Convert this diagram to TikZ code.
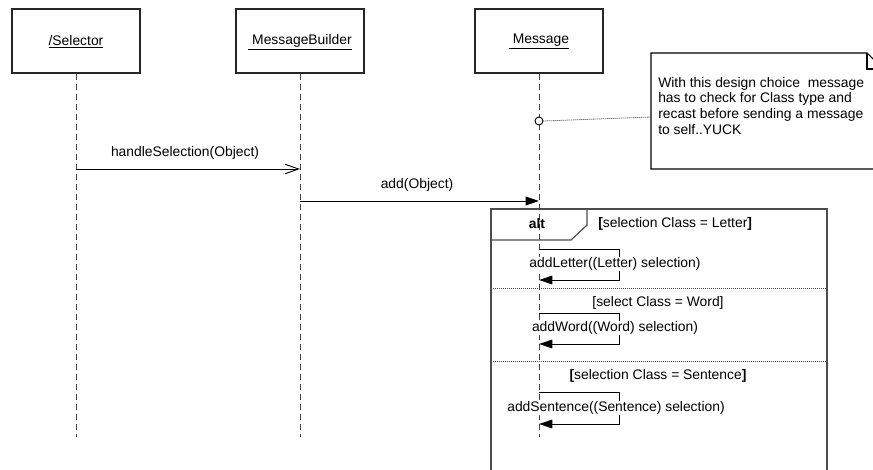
\documentclass[tikz,border=0pt]{standalone}
\usepackage{fontspec}
\setmainfont{Liberation Sans}
\usetikzlibrary{arrows.meta}
\begin{document}
\begin{tikzpicture}[x=0.75pt,y=-0.75pt,
  every node/.style={font=\fontsize{10.4}{11.7}\selectfont, inner sep=0pt},
  head/.style={draw=black!85, line width=1pt, minimum width=96pt, minimum height=48pt, fill=white},
  lifeline/.style={draw=black!75, line width=0.75pt, dash pattern=on 4.5pt off 3pt},
  msg/.style={draw=black, line width=0.7pt},
  sync/.style={msg, -{Triangle[length=10pt,width=6.5pt]}},
  async/.style={msg, -{Straight Barb[length=10pt,width=7pt]}},
  frame/.style={draw=black!70, line width=0.9pt},
  divider/.style={draw=black!70, line width=0.6pt, dash pattern=on 0.75pt off 0.75pt}]
\useasboundingbox (0,0) rectangle (873,470);
\clip (0,0) rectangle (873,470);
\fill[white] (0,0) rectangle (873,470);

% lifeline heads
\node[head] (sel) at (76,41) {};
\node (selName) at (76,42) {\underline{/Selector}};
\node[head] (mb) at (300,41) {};
\node (mbName) at (300,42) {\underline{\ MessageBuilder}};
\node[head] (msg) at (539,41) {};
\node (msgName) at (539,42) {\underline{\ Message}};

% lifeline ends
\coordinate (selEnd) at (76,437);
\coordinate (mbEnd) at (300,437);
\coordinate (msgEnd) at (539,437);

% note
\draw[line width=0.8pt, fill=white] (651,53) -- (867,53) -- (883,69) -- (883,169) -- (651,169) -- cycle;
\draw[line width=0.8pt] (867,53) -- (867,69) -- (883,69);
\node[anchor=north west, align=left] (note) at (658,77)
  {With this design choice\ \ message\\has to check for Class type and\\recast before sending a message\\to self..YUCK};
\coordinate (noteLink) at (651,117);

% alt combined fragment
\draw[frame] (491,480) -- (491,209) -- (827,209) -- (827,480);
\draw[frame] (491,240) -- (571,240) -- (587,225) -- (587,209);
\draw[divider] (491,288) -- (827,288);
\draw[divider] (491,361) -- (827,361);

% lifelines
\draw[lifeline] (sel.south) -- (selEnd);
\draw[lifeline] (mb.south) -- (mbEnd);
\draw[lifeline] (msg.south) -- (msgEnd);

% note anchor circle
\node[draw, circle, minimum size=6pt, line width=0.7pt, fill=white] (anchorPt) at (539,121) {};
\draw[divider, draw=black!80] (anchorPt.east) -- (noteLink);

\node[font=\fontsize{10.4}{11}\bfseries] (altTag) at (537,224) {alt};
\node[anchor=west] (g1) at (598,224) {\textbf{[}selection Class = Letter\textbf{]}};
\node (g2) at (658,303) {[select Class = Word]};
\node (g3) at (658,376) {\textbf{[}selection Class = Sentence\textbf{]}};

% messages
\coordinate (m1a) at (76,169);
\coordinate (m1b) at (300,169);
\draw[async] (m1a) -- (m1b);
\node (m1l) at (185,153) {handleSelection(Object)};

\coordinate (m2a) at (300,201);
\coordinate (m2b) at (539,201);
\draw[sync] (m2a) -- (m2b);
\node (m2l) at (417,185) {add(Object)};

% self calls
\coordinate (s1a) at (539,249);
\coordinate (s1b) at (539,280);
\draw[sync] (s1a) -- (619,249) -- (619,280) -- (s1b);
\node[fill=white, inner sep=0.5pt] (s1l) at (615,264) {addLetter((Letter) selection)};

\coordinate (s2a) at (539,313);
\coordinate (s2b) at (539,344);
\draw[sync] (s2a) -- (619,313) -- (619,344) -- (s2b);
\node[fill=white, inner sep=0.5pt] (s2l) at (615,328) {addWord((Word) selection)};

\coordinate (s3a) at (539,392);
\coordinate (s3b) at (539,424);
\draw[sync] (s3a) -- (619,392) -- (619,424) -- (s3b);
\node[fill=white, inner sep=0.5pt] (s3l) at (616,408) {addSentence((Sentence) selection)};
\end{tikzpicture}
\end{document}
